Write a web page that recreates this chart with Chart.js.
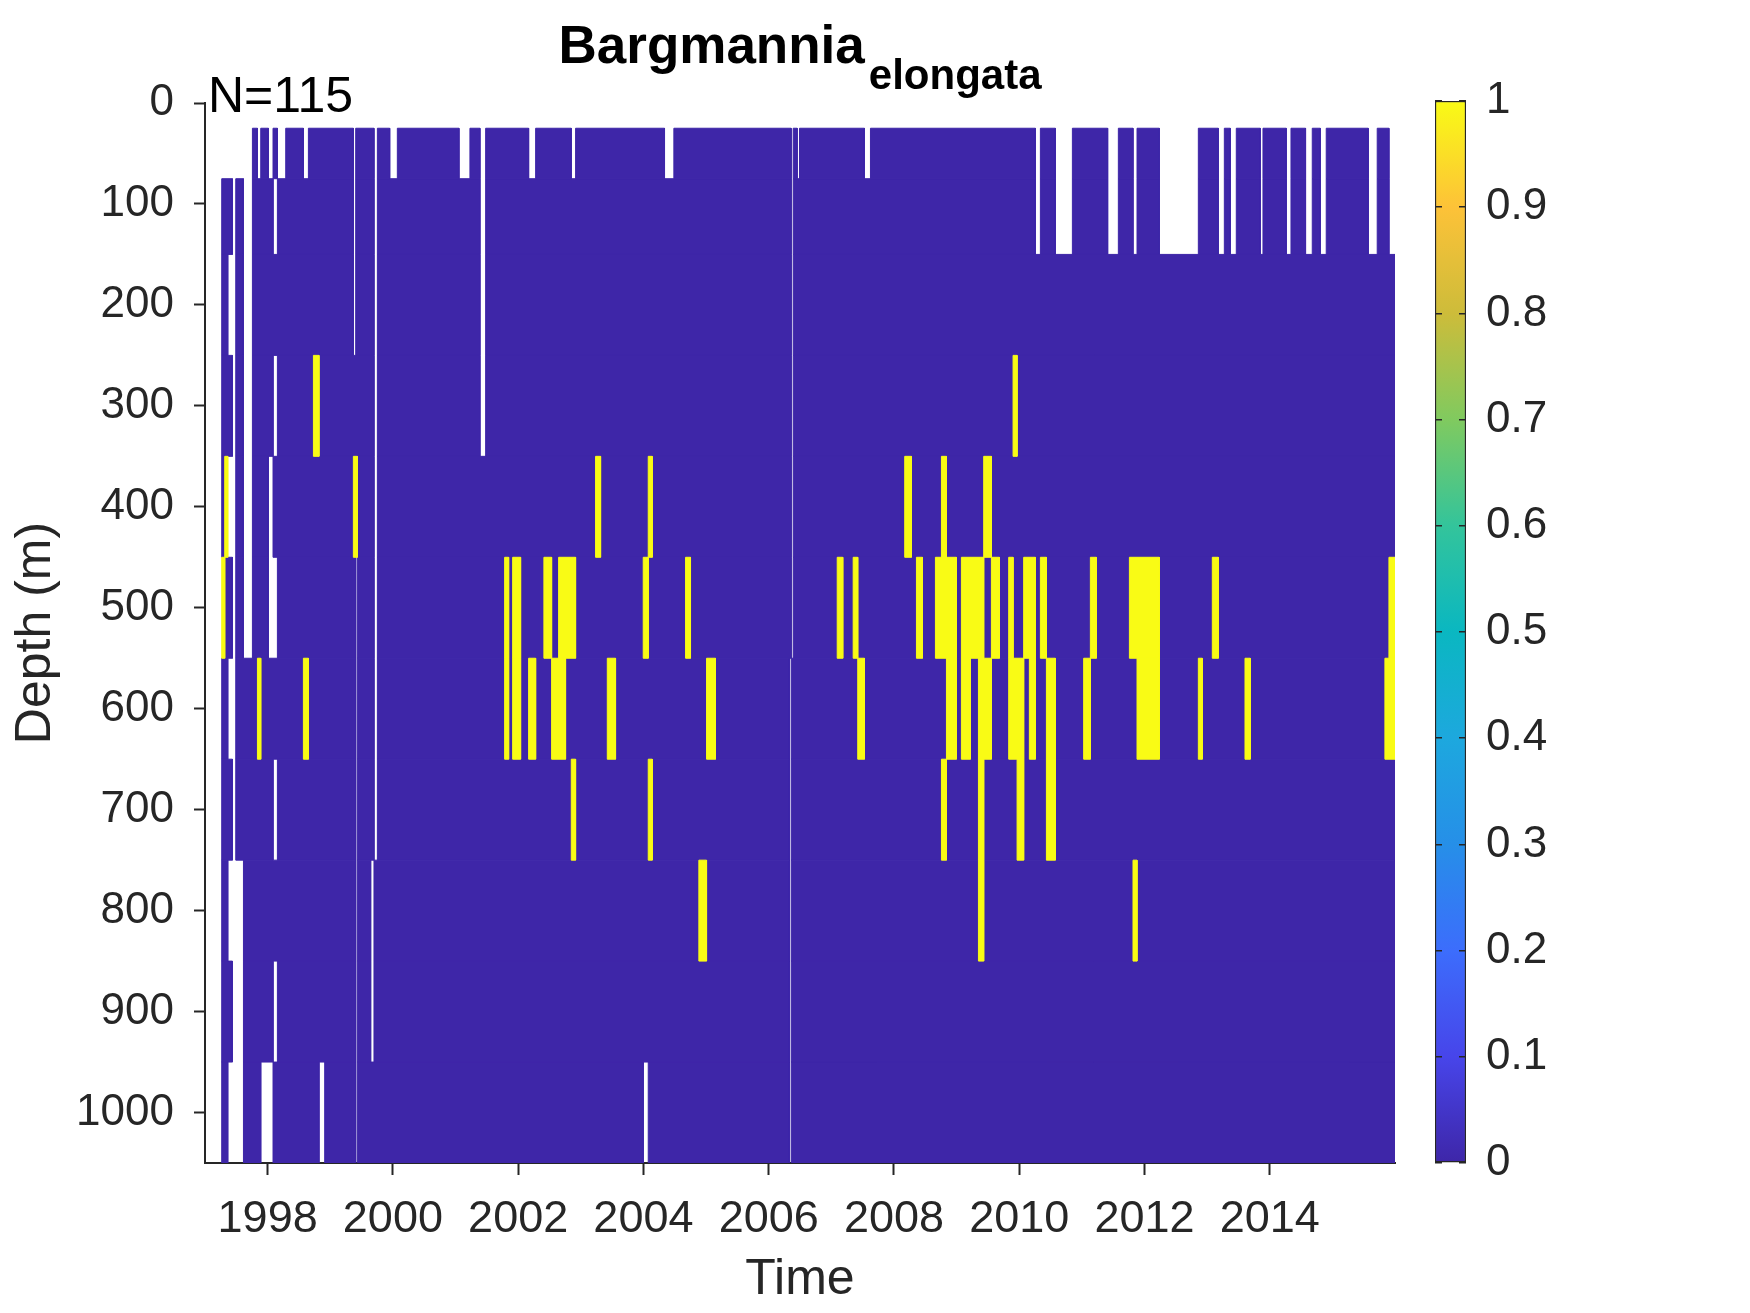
<!DOCTYPE html>
<html>
<head>
<meta charset="utf-8">
<title>Bargmannia elongata</title>
<script src="https://cdn.jsdelivr.net/npm/chart.js@4.4.1/dist/chart.umd.min.js"></script>
<style>
  html, body { margin: 0; padding: 0; background: #fff; }
  #wrap { position: relative; width: 1750px; height: 1313px; }
  #wrap canvas { position: absolute; top: 0; }
</style>
</head>
<body>
<div id="wrap">
  <canvas id="plot" width="1750" height="1313" style="left:0;width:1750px;height:1313px"></canvas>
  <canvas id="cbar" width="350" height="1313" style="left:1400px;width:350px;height:1313px"></canvas>
</div>
<script>
// left edge of each sampled column (decimal years), the last value closes the final column
const timeEdges = [
  1997.267, 1997.315, 1997.363, 1997.438, 1997.491, 1997.614, 1997.757, 1997.837, 1997.890, 1998.013,
  1998.086, 1998.156, 1998.289, 1998.571, 1998.651, 1998.731, 1998.820, 1998.911, 1999.369, 1999.406,
  1999.433, 1999.645, 1999.698, 1999.752, 1999.949, 2000.071, 2001.055, 2001.230, 2001.390, 2001.481,
  2001.784, 2001.848, 2001.912, 2002.039, 2002.167, 2002.279, 2002.411, 2002.534, 2002.646, 2002.757,
  2002.848, 2002.917, 2003.236, 2003.316, 2003.423, 2003.555, 2003.997, 2004.077, 2004.141, 2004.337,
  2004.486, 2004.673, 2004.752, 2004.885, 2005.008, 2005.151, 2006.332, 2006.359, 2006.391, 2006.455,
  2006.492, 2007.094, 2007.183, 2007.349, 2007.422, 2007.529, 2007.625, 2008.172, 2008.279, 2008.359,
  2008.455, 2008.662, 2008.758, 2008.838, 2008.997, 2009.077, 2009.221, 2009.349, 2009.433, 2009.556,
  2009.684, 2009.832, 2009.902, 2009.966, 2010.071, 2010.162, 2010.258, 2010.338, 2010.434, 2010.577,
  2010.849, 2011.029, 2011.136, 2011.232, 2011.412, 2011.583, 2011.759, 2011.817, 2011.881, 2012.237,
  2012.860, 2012.923, 2013.083, 2013.179, 2013.275, 2013.370, 2013.466, 2013.605, 2013.689, 2013.849,
  2013.892, 2014.264, 2014.339, 2014.572, 2014.679, 2014.807, 2014.902, 2015.573, 2015.716, 2015.839,
  2015.903, 2016.000
];

// depth bin edges (m)
const depthEdges = [25, 75, 150, 250, 350, 450, 550, 650, 750, 850, 950, 1050];

// one string per column, one char per depth bin from the top:
// 0 = absent, 1 = present, . = not sampled
const presence = [
  '.0000100000', '.0001000000', '.0.0.0.0.0.', '...........', '.0000000...',
  '......00000', '00000000000', '.0000010000', '0000000000.', '.000..0000.',
  '0.0.0.0.0.0', '.0000000000', '00000000000', '.0000010000', '00000000000',
  '00010000000', '0000000000.', '00000000000', '...01000000', '00001......',
  '00000000000', '00000000..0', '........000', '00000000000', '.0000000000',
  '00000000000', '.0000000000', '00000000000', '....0000000', '00000000000',
  '00000110000', '00000000000', '00000110000', '00000000000', '.0000010000',
  '00000000000', '00000100000', '00000010000', '00000110000', '00000100000',
  '.0000101000', '00000000000', '00001000000', '00000000000', '00000010000',
  '00000000000', '0000010000.', '00001001000', '00000000000', '.0000000000',
  '00000000000', '00000100000', '00000000000', '00000000100', '00000010000',
  '00000000000', '000000.....', '......00000', '00000000000', '.0000000000',
  '00000000000', '00000100000', '00000000000', '00000100000', '00000010000',
  '.0000000000', '00000000000', '00001000000', '00000000000', '00000100000',
  '00000000000', '00000100000', '00001101000', '00000110000', '00000000000',
  '00000110000', '00000100000', '00000111100', '00001010000', '00000100000',
  '00000000000', '00000110000', '00010010000', '00000011000', '00000100000',
  '00000110000', '..000000000', '00000100000', '00000011000', '..000000000',
  '00000000000', '00000010000', '00000100000', '00000000000', '..000000000',
  '00000000000', '00000100000', '..000100100', '00000110000', '..000000000',
  '00000010000', '00000000000', '00000100000', '..000000000', '00000000000',
  '..000000000', '00000000000', '00000010000', '00000000000', '..000000000',
  '00000000000', '..000000000', '00000000000', '..000000000', '00000000000',
  '..000000000', '00000000000', '..000000000', '00000000000', '00000010000',
  '..000110000'
];

const yearTicks = [1998, 2000, 2002, 2004, 2006, 2008, 2010, 2012, 2014];
const depthTicks = [0, 100, 200, 300, 400, 500, 600, 700, 800, 900, 1000];
const colorTicks = [0, 0.1, 0.2, 0.3, 0.4, 0.5, 0.6, 0.7, 0.8, 0.9, 1];

const titleMain = 'Bargmannia';
const titleSub = 'elongata';
const nLabel = 'N=115';

const FONT = "'Liberation Sans', Arial, Helvetica, sans-serif";
const INK = '#262626';
const ABSENT = '#3E26A8';
const PRESENT = '#F9FB15';
const PARULA = ['#3E26A8', '#4745EA', '#3C6DFC', '#268FE8', '#1DA8DE', '#0AB7C1',
                '#33C49B', '#80CA5F', '#CDBC3A', '#FDC238', '#F9FB15'];

// merge neighbouring columns with the same value in a depth bin into one filled rectangle
const cellSets = [];
for (let r = 0; r < depthEdges.length - 1; r++) {
  let c = 0;
  while (c < presence.length) {
    const v = presence[c][r];
    let e = c + 1;
    while (e < presence.length && presence[e][r] === v) e++;
    if (v === '0' || v === '1') {
      const x0 = timeEdges[c], x1 = timeEdges[e];
      const y0 = depthEdges[r], y1 = depthEdges[r + 1];
      const col = v === '1' ? PRESENT : ABSENT;
      cellSets.push({
        data: [{x: x0, y: y0}, {x: x1, y: y0}, {x: x1, y: y1}, {x: x0, y: y1}, {x: x0, y: y0}],
        backgroundColor: col,
        borderColor: col,
        borderWidth: 1,
        fill: 'shape',
        pointRadius: 0,
        tension: 0,
        order: v === '1' ? 0 : 1
      });
    }
    c = e;
  }
}

const textPlugin = {
  id: 'plotTexts',
  afterDraw(chart) {
    const ctx = chart.ctx;
    const a = chart.chartArea;
    ctx.save();
    ctx.fillStyle = '#000';
    ctx.textBaseline = 'alphabetic';
    ctx.textAlign = 'left';
    ctx.font = 'bold 53px ' + FONT;
    const w1 = ctx.measureText(titleMain).width;
    ctx.font = 'bold 42px ' + FONT;
    const w2 = ctx.measureText(titleSub).width;
    const x0 = (a.left + a.right) / 2 - (w1 + w2 + 4) / 2;
    ctx.font = 'bold 53px ' + FONT;
    ctx.fillText(titleMain, x0, a.top - 40);
    ctx.font = 'bold 42px ' + FONT;
    ctx.fillText(titleSub, x0 + w1 + 4, a.top - 14);
    ctx.font = '50px ' + FONT;
    ctx.fillText(nLabel, a.left + 3, a.top + 9);
    ctx.restore();
  }
};

new Chart(document.getElementById('plot'), {
  type: 'line',
  data: { datasets: cellSets },
  options: {
    responsive: false,
    animation: false,
    events: [],
    layout: { padding: { top: 103, right: 355, bottom: 0, left: 0 } },
    plugins: {
      legend: { display: false },
      tooltip: { enabled: false },
      title: { display: false }
    },
    scales: {
      x: {
        type: 'linear',
        min: 1997,
        max: 2016,
        afterBuildTicks: s => { s.ticks = yearTicks.map(v => ({ value: v })); },
        afterFit: s => { s.height = 150; },
        grid: { drawOnChartArea: false, tickLength: 12, tickWidth: 2, tickColor: INK },
        border: { color: INK, width: 2 },
        ticks: {
          autoSkip: false, maxRotation: 0, padding: 18, color: INK,
          font: { family: FONT, size: 45 },
          callback: v => String(v)
        },
        title: {
          display: true, text: 'Time', color: INK,
          font: { family: FONT, size: 50 },
          padding: { top: 0, bottom: 3 }
        }
      },
      y: {
        type: 'linear',
        reverse: true,
        min: 0,
        max: 1050,
        afterBuildTicks: s => { s.ticks = depthTicks.map(v => ({ value: v })); },
        afterFit: s => { s.width = 205; },
        grid: { drawOnChartArea: false, tickLength: 11, tickWidth: 2, tickColor: INK },
        border: { color: INK, width: 2 },
        ticks: {
          padding: 20, color: INK,
          font: { family: FONT, size: 44 },
          callback: v => String(v)
        },
        title: {
          display: true, text: 'Depth (m)', color: INK,
          font: { family: FONT, size: 50 },
          padding: { top: 6, bottom: 0 }
        }
      }
    }
  },
  plugins: [textPlugin]
});

function parulaFill(chart) {
  const area = chart.chartArea;
  if (!area) return ABSENT;
  const g = chart.ctx.createLinearGradient(0, area.bottom, 0, area.top);
  PARULA.forEach((c, i) => g.addColorStop(i / (PARULA.length - 1), c));
  return g;
}

new Chart(document.getElementById('cbar'), {
  type: 'bar',
  data: {
    labels: [''],
    datasets: [{
      data: [[colorTicks[0], colorTicks[colorTicks.length - 1]]],
      backgroundColor: ctx => parulaFill(ctx.chart),
      borderColor: INK,
      borderWidth: 1.5,
      borderSkipped: false,
      barPercentage: 1,
      categoryPercentage: 1
    }]
  },
  options: {
    responsive: false,
    animation: false,
    events: [],
    layout: { padding: { top: 101, bottom: 150, left: 35, right: 0 } },
    plugins: { legend: { display: false }, tooltip: { enabled: false } },
    scales: {
      x: { display: false },
      y: {
        position: 'right',
        min: 0,
        max: 1,
        afterBuildTicks: s => { s.ticks = colorTicks.map(v => ({ value: v })); },
        afterFit: s => { s.width = 284; },
        grid: { drawTicks: false, color: INK, lineWidth: 1.5, z: 1 },
        border: { display: false, dash: [7, 17] },
        ticks: {
          padding: 20, color: INK,
          font: { family: FONT, size: 44 },
          callback: v => String(v)
        }
      }
    }
  }
});
</script>
</body>
</html>
